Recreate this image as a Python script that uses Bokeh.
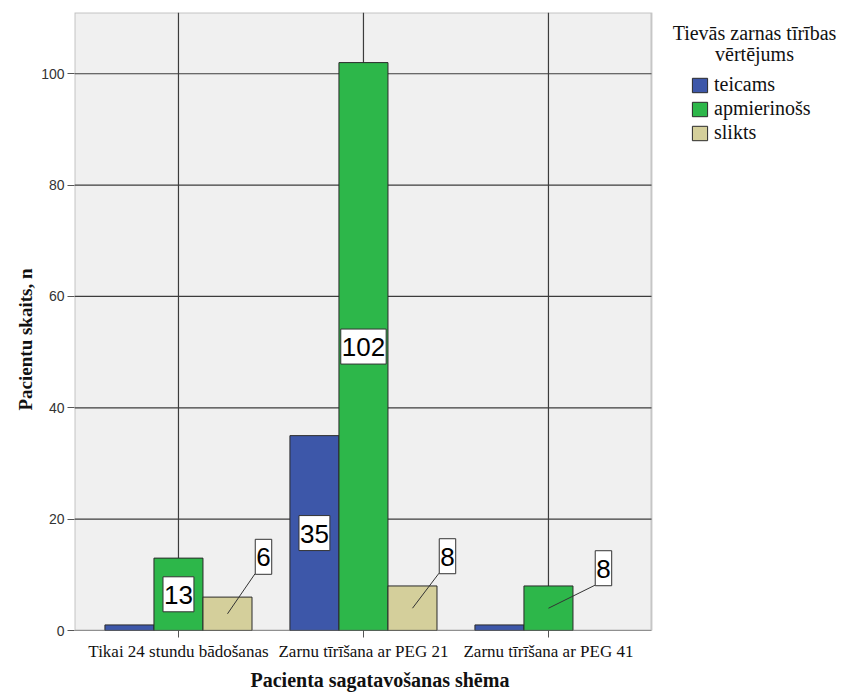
from bokeh.plotting import figure
from bokeh.models import Range1d, FixedTicker, Legend, LegendItem, Label, BoxAnnotation, Title
from bokeh.embed import file_html
from bokeh.resources import INLINE
from bokeh.core.properties import value

# ---- data ----
categories = ["Tikai 24 stundu bādošanas", "Zarnu tīrīšana ar PEG 21", "Zarnu tīrīšana ar PEG 41"]
series_names = ["teicams", "apmierinošs", "slikts"]
teicams = [1, 35, 1]
apmierinoss = [13, 102, 8]
slikts = [6, 8, 0]
y_ticks = [0, 20, 40, 60, 80, 100]
legend_title = ["Tievās zarnas tīrības", "vērtējums"]
x_title = "Pacienta sagatavošanas shēma"
y_title = "Pacientu skaits, n"

# labels inside bars: (series index, category index)
inside_labels = [(1, 0), (0, 1), (1, 1)]
# callout labels: (series index, category index, dx px, dy px)
callout_labels = [(2, 0, 36, -57), (2, 1, 35, -52), (1, 2, 55, -40)]

# ---- styling / layout ----
SERIF = '"Liberation Serif", "Times New Roman", serif'
SANS = '"Liberation Sans", Arial, sans-serif'
colors = ["#3D57A9", "#2DB74A", "#D4CF9B"]
bar_w = 0.265
offsets = [-bar_w, 0.0, bar_w]
x_lo, x_hi = -0.562, 2.557      # extent of the plot area
y_lo, y_hi = 0, 111
PW = 577                         # plot-area width in px
FW, FH = 768, 618                # frame (plot area + legend space)
x_frame_hi = x_lo + (x_hi - x_lo) * FW / PW

p = figure(frame_width=FW, frame_height=FH,
           x_range=Range1d(x_lo, x_frame_hi), y_range=Range1d(y_lo, y_hi),
           output_backend="svg", toolbar_location=None,
           min_border_left=74, min_border_right=0, min_border_top=12, min_border_bottom=58)
p.background_fill_color = "white"
p.border_fill_color = "white"
p.outline_line_color = None
p.xgrid.grid_line_color = None
p.ygrid.grid_line_color = None

# plot-area background
p.add_layout(BoxAnnotation(left=x_lo, right=x_hi, bottom=y_lo, top=y_hi,
                           fill_color="#F0F0F0", fill_alpha=1, line_color=None,
                           level="underlay"))

# grid lines (drawn under bars)
gx = list(range(len(categories)))
p.segment(x0=gx, x1=gx, y0=[y_lo] * len(gx), y1=[y_hi] * len(gx),
          line_color="#3c3c3c", line_width=1.2)
p.segment(x0=[x_lo] * len(y_ticks), x1=[x_hi] * len(y_ticks), y0=y_ticks, y1=y_ticks,
          line_color="#3c3c3c", line_width=1.2)

values = [teicams, apmierinoss, slikts]
renderers = []
for vals, col, off in zip(values, colors, offsets):
    xs = [i + off for i, v in enumerate(vals) if v > 0]
    ys = [v for v in vals if v > 0]
    r = p.vbar(x=xs, top=ys, bottom=0, width=bar_w, fill_color=col,
               line_color="#2a2a2a", line_width=1)
    renderers.append(r)

# frame border
p.add_layout(BoxAnnotation(left=x_lo, right=x_hi, bottom=y_lo, top=y_hi,
                           fill_alpha=0, line_color="#555555", line_width=2,
                           level="overlay"))

# axes
p.xaxis.ticker = FixedTicker(ticks=gx)
p.xaxis.major_label_overrides = {i: c for i, c in enumerate(categories)}
p.yaxis.ticker = FixedTicker(ticks=y_ticks)
for ax in (p.xaxis, p.yaxis):
    ax.axis_line_color = None
    ax.major_tick_line_color = "#555555"
    ax.major_tick_in = 0
    ax.major_tick_out = 7
    ax.minor_tick_line_color = None
p.xaxis.major_label_text_font = SERIF
p.xaxis.major_label_text_font_size = "17px"
p.xaxis.major_label_text_color = "#111111"
p.xaxis.major_label_standoff = 4
p.yaxis.major_label_text_font = SANS
p.yaxis.major_label_text_font_size = "14px"
p.yaxis.major_label_text_color = "#333333"
p.yaxis.major_label_standoff = 3

# axis titles (offset from the plot-area centre as in the original)
p.add_layout(Title(text=x_title, align="left", offset=176, standoff=6,
                   text_font=SERIF, text_font_style="bold", text_font_size="20px",
                   text_color="#111111"), "below")
p.add_layout(Title(text=y_title, align="left", offset=220, standoff=6,
                   text_font=SERIF, text_font_style="bold", text_font_size="19px",
                   text_color="#111111"), "left")

ppx = PW / (x_hi - x_lo)
ppy = FH / (y_hi - y_lo)

label_style = dict(text_font=value(SANS), text_font_size="26px",
                   text_color="black", text_align="center", text_baseline="middle",
                   background_fill_color="white", border_line_color="#333333",
                   border_line_width=1, padding=dict(left=1, right=1, top=9, bottom=8))

# inside labels
ix = [ci + offsets[si] for si, ci in inside_labels]
iy = [values[si][ci] / 2 for si, ci in inside_labels]
it = [str(values[si][ci]) for si, ci in inside_labels]
p.text(x=ix, y=iy, text=it, **label_style)

# callouts
BW, BH = 17, 34
cx = [ci + offsets[si] for si, ci, dx, dy in callout_labels]
cy = [values[si][ci] / 2 for si, ci, dx, dy in callout_labels]
ct = [str(values[si][ci]) for si, ci, dx, dy in callout_labels]
cdx = [dx for si, ci, dx, dy in callout_labels]
cdy = [dy for si, ci, dx, dy in callout_labels]
ex = [x + (dx - BW / 2) / ppx for x, dx in zip(cx, cdx)]
ey = [y - (dy + BH / 2) / ppy for y, dy in zip(cy, cdy)]
p.segment(x0=cx, y0=cy, x1=ex, y1=ey, line_color="#333333", line_width=1)
p.text(x=cx, y=cy, text=ct, x_offset=cdx, y_offset=cdy, **label_style)

# legend
legend = Legend(items=[LegendItem(label=n, renderers=[r]) for n, r in zip(series_names, renderers)],
                location=(616, 486), padding=0, margin=0, spacing=1,
                glyph_width=19, glyph_height=18, label_height=20, label_standoff=5,
                label_text_font=SERIF, label_text_font_size="20px",
                label_text_color="#111111", border_line_alpha=0,
                background_fill_alpha=0)
p.add_layout(legend)
for t, yy in zip(legend_title, [598, 577]):
    p.add_layout(Label(x=680, y=yy, x_units="screen", y_units="screen", text=t,
                       text_align="center", text_baseline="middle",
                       text_font=SERIF, text_font_size="20px",
                       text_color="#111111"))

open("out.html", "w").write(file_html(p, INLINE))
